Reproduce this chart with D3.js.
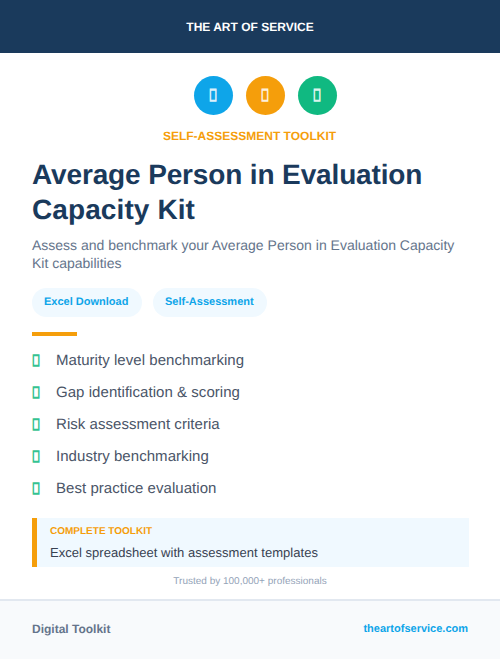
<!DOCTYPE html>
<html>
<head>
<meta charset="utf-8">
<script src="https://cdn.jsdelivr.net/npm/d3@7"></script>
<style>
  html, body { margin: 0; padding: 0; background: #fff; }
  svg { display: block; }
  text { font-family: "Liberation Sans", Arial, sans-serif; text-rendering: geometricPrecision; }
</style>
</head>
<body>
<div id="card"></div>
<script>
const brand = "THE ART OF SERVICE";
const eyebrow = "SELF-ASSESSMENT TOOLKIT";
const titleLines = ["Average Person in Evaluation", "Capacity Kit"];
const subtitleLines = ["Assess and benchmark your Average Person in Evaluation Capacity", "Kit capabilities"];
const iconColors = ["#0ea5e9", "#f59e0b", "#10b981"];
const badges = ["Excel Download", "Self-Assessment"];
const features = ["Maturity level benchmarking", "Gap identification & scoring", "Risk assessment criteria", "Industry benchmarking", "Best practice evaluation"];
const calloutLabel = "COMPLETE TOOLKIT";
const calloutText = "Excel spreadsheet with assessment templates";
const trusted = "Trusted by 100,000+ professionals";
const footerLeft = "Digital Toolkit";
const footerRight = "theartofservice.com";
const missingGlyph = "\uE000"; // no font has it, renders as the empty box

const width = 500, height = 659;
const navy = "#1a3a5c", slate = "#64748b", ink = "#374151", sky = "#0ea5e9", amber = "#f59e0b", green = "#10b981";

const svg = d3.select("#card").append("svg").attr("width", width).attr("height", height);

const addText = (str, x, y, size, fill, opts = {}) =>
  svg.append("text")
    .attr("x", x).attr("y", y)
    .attr("font-size", size)
    .attr("fill", fill)
    .attr("font-weight", opts.weight || 400)
    .attr("text-anchor", opts.anchor || "start")
    .attr("letter-spacing", opts.spacing || 0)
    .attr("stroke", opts.stroke ? fill : null)
    .attr("stroke-width", opts.stroke || null)
    .attr("opacity", opts.opacity || null)
    .attr("textLength", opts.fit || null)
    .attr("lengthAdjust", opts.fit ? "spacingAndGlyphs" : null)
    .text(str);

// Header band
svg.append("rect").attr("width", width).attr("height", 53).attr("fill", navy);
addText(brand, 250, 31, 12, "#fff", { weight: 700, anchor: "middle" });

// Icon row
const iconX = d3.scalePoint().domain(d3.range(iconColors.length)).range([213.5, 317.5]);
iconColors.forEach((c, i) => {
  svg.append("circle").attr("cx", iconX(i)).attr("cy", 95.5).attr("r", 19.5).attr("fill", c);
  addText(missingGlyph, iconX(i) - 0.5, 100.5, 17, "#fff", { anchor: "middle", stroke: 1.4, fit: 8, opacity: 0.85 });
});
addText(eyebrow, 249.5, 140, 12, amber, { weight: 700, anchor: "middle" });

// Title + subtitle
const titleY = d3.scalePoint().domain(d3.range(titleLines.length)).range([184, 219]);
const titleSpacing = [-0.14, 0.1]; // the two lines were fitted separately
titleLines.forEach((t, i) => addText(t, 32, titleY(i), 28, navy, { weight: 700, spacing: titleSpacing[i] }));
const subY = d3.scalePoint().domain(d3.range(subtitleLines.length)).range([250, 268]);
subtitleLines.forEach((t, i) => addText(t, 32, subY(i), 14, slate));

// Badges
const badgeBox = [[32, 110], [153, 114]];
badges.forEach((b, i) => {
  svg.append("rect").attr("x", badgeBox[i][0]).attr("y", 288).attr("width", badgeBox[i][1]).attr("height", 29).attr("rx", 14.5).attr("fill", "#f0f9ff");
  addText(b, badgeBox[i][0] + 12, 305, 11, sky, { weight: 700 });
});

// Divider
svg.append("rect").attr("x", 32).attr("y", 332).attr("width", 45).attr("height", 4).attr("fill", amber);

// Feature list
const featureY = d3.scalePoint().domain(features).range([365, 493]);
features.forEach((f) => {
  addText(missingGlyph, 36, featureY(f) + 0.5, 16, green, { anchor: "middle", stroke: 1.4, fit: 8, opacity: 0.85 });
  addText(f, 56, featureY(f), 15, "#4a5568", { spacing: 0.05 });
});

// Callout
svg.append("rect").attr("x", 32).attr("y", 518).attr("width", 437).attr("height", 49).attr("fill", "#f0f9ff");
svg.append("rect").attr("x", 32).attr("y", 518).attr("width", 5).attr("height", 49).attr("fill", amber);
addText(calloutLabel, 50, 534, 10, amber, { weight: 700 });
addText(calloutText, 50, 557, 13, ink, { spacing: 0.03 });

addText(trusted, 250, 584, 10, "#94a3b8", { anchor: "middle" });

// Footer
svg.append("rect").attr("y", 600).attr("width", width).attr("height", 59).attr("fill", "#f8fafc");
svg.append("rect").attr("y", 599).attr("width", width).attr("height", 2).attr("fill", "#e2e8f0");
addText(footerLeft, 32, 633, 12, slate, { weight: 700 });
addText(footerRight, 468, 632, 11, sky, { weight: 700, anchor: "end" });
</script>
</body>
</html>
